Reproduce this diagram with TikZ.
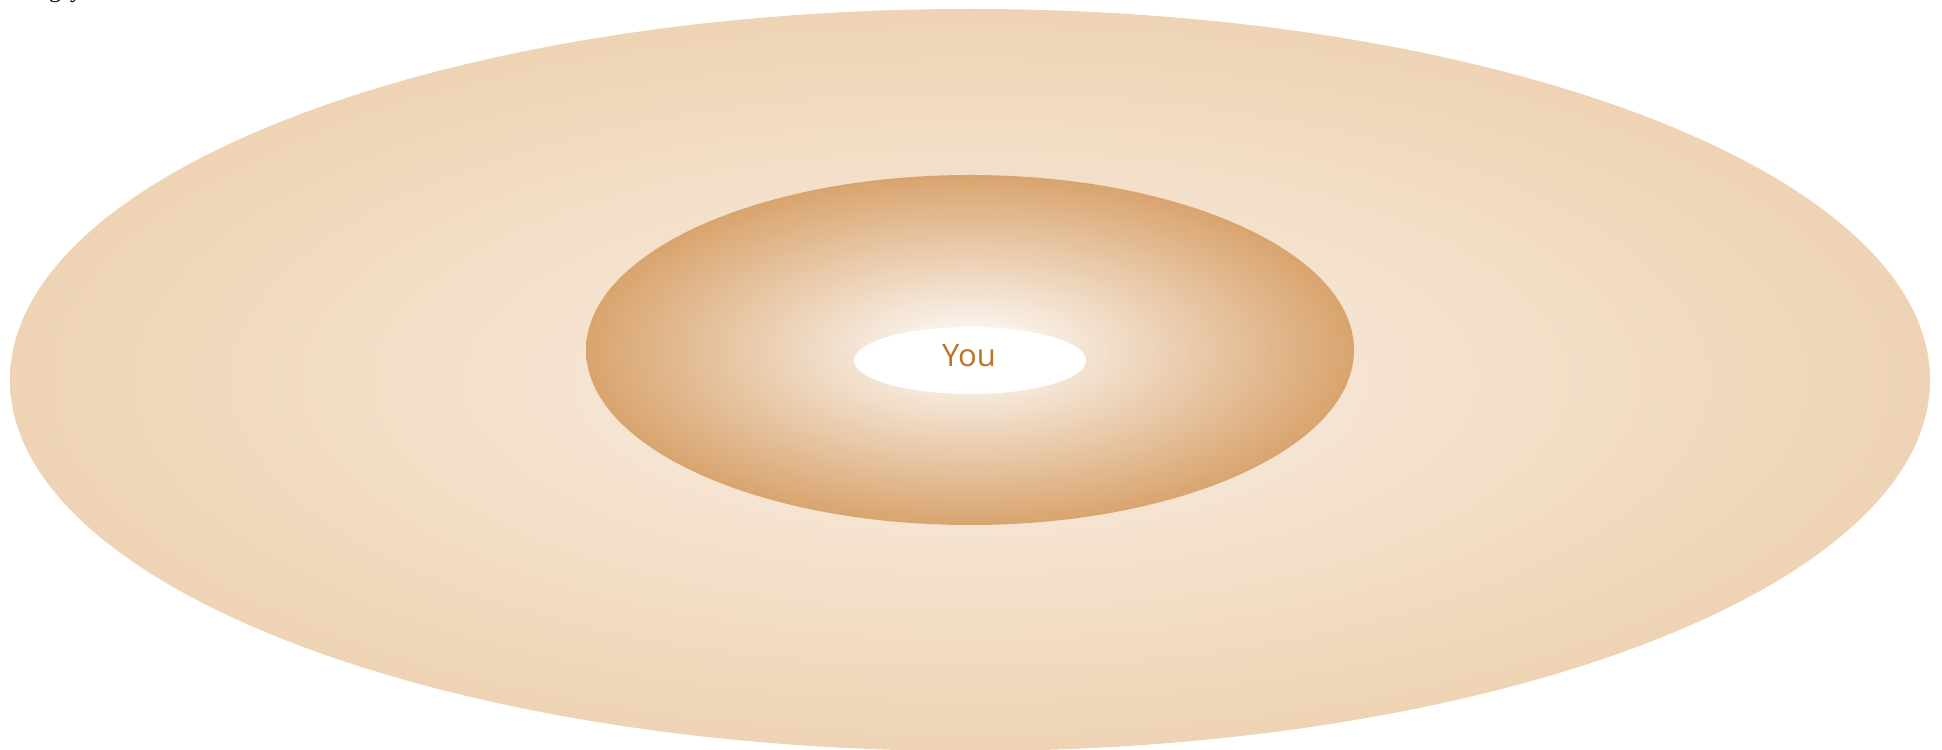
\documentclass[tikz,border=0pt]{standalone}
\usepackage{fontspec}
\setmainfont{Liberation Serif}
\newfontfamily\yousans{Open Sans}
\usetikzlibrary{shapes.geometric}
\definecolor{outeredge}{HTML}{EED3B4}
\definecolor{outercenter}{HTML}{FAEFE4}
\definecolor{midedge}{HTML}{D9A46E}
\definecolor{youtext}{HTML}{C0721F}
\tikzset{
  ring/.style={ellipse, draw=none, inner sep=0pt},
}
\begin{document}
\begin{tikzpicture}[x=1pt,y=1pt]
\useasboundingbox (0,0) rectangle (1942,749);
\node[ring, minimum width=1920pt, minimum height=742pt, inner color=outercenter, outer color=outeredge] (outer) at (970,369) {};
\node[ring, minimum width=768pt, minimum height=350pt, inner color=white, outer color=midedge] (middle) at (970,399) {};
\node[ring, minimum width=232pt, minimum height=67pt, fill=white] (inner) at (970,388.5) {};
\node[text=youtext, font=\yousans\fontsize{31}{37}\selectfont] (you) at (969,393) {You};
\node[anchor=base west, inner sep=0pt, font=\fontsize{24}{28}\selectfont] (title) at (49,751.5) {g\hspace{9pt}y};
\end{tikzpicture}
\end{document}
